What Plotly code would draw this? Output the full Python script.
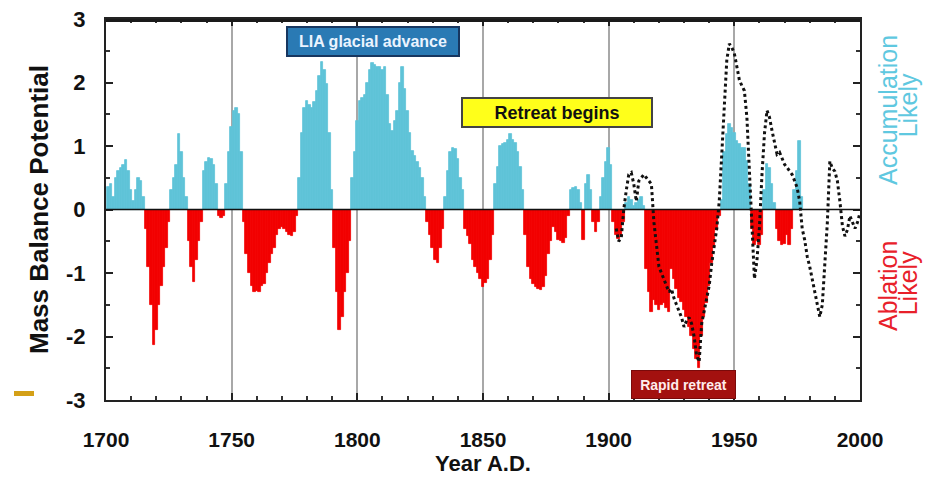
import plotly.graph_objects as go

# ---------------- data ----------------
years = list(range(1701, 1978))
mass_balance = [
    0.35, 0.40, 0.20, 0.50, 0.60, 0.65, 0.70, 0.78, 0.60, 0.30,   # 1701-1710
    0.13, 0.30, 0.50, 0.45, 0.20, -0.30, -0.90, -1.50, -2.14, -1.90,  # 1711-1720
    -1.50, -1.20, -0.90, -0.60, -0.20, 0.30, 0.50, 0.70, 1.19, 0.90,  # 1721-1730
    0.50, 0.20, -0.50, -0.90, -1.14, -0.80, -0.50, -0.20, 0.60, 0.75,  # 1731-1740
    0.81, 0.80, 0.70, 0.40, -0.10, -0.14, -0.10, 0.40, 0.90, 1.30,   # 1741-1750
    1.55, 1.60, 1.50, 0.90, -0.20, -0.70, -1.00, -1.20, -1.30, -1.28,  # 1751-1760
    -1.30, -1.20, -1.17, -1.00, -0.85, -0.70, -0.60, -0.40, -0.30, -0.27,  # 1761-1770
    -0.30, -0.35, -0.40, -0.42, -0.35, -0.10, 0.50, 1.20, 1.60, 1.71,  # 1771-1780
    1.65, 1.60, 1.70, 1.87, 2.10, 2.32, 2.20, 1.98, 1.20, 0.30,   # 1781-1790
    -0.60, -1.30, -1.90, -1.70, -1.30, -1.00, -0.50, 0.50, 0.90, 1.40,  # 1791-1800
    1.71, 1.75, 1.81, 2.00, 2.20, 2.30, 2.28, 2.25, 2.25, 2.20,   # 1801-1810
    2.25, 1.80, 1.35, 1.24, 1.40, 1.55, 2.00, 2.25, 1.90, 1.55,   # 1811-1820
    1.20, 0.92, 0.85, 0.75, 0.66, 0.50, 0.20, -0.20, -0.40, -0.60,  # 1821-1830
    -0.80, -0.85, -0.60, -0.30, 0.20, 0.60, 0.90, 0.97, 0.95, 0.80,  # 1831-1840
    0.50, 0.30, -0.30, -0.42, -0.55, -0.80, -0.90, -1.00, -1.10, -1.22,  # 1841-1850
    -1.15, -1.10, -0.80, -0.40, 0.40, 0.67, 1.00, 1.03, 1.05, 1.10,  # 1851-1860
    1.19, 1.10, 1.05, 0.90, 0.67, 0.30, -0.40, -0.90, -1.10, -1.18,  # 1861-1870
    -1.22, -1.25, -1.26, -1.22, -1.05, -0.70, -0.50, -0.27, -0.35, -0.48,  # 1871-1880
    -0.50, -0.53, -0.45, -0.10, 0.30, 0.34, 0.35, 0.30, 0.10, -0.48,  # 1881-1890
    0.40, 0.55, 0.30, -0.20, -0.35, -0.20, 0.20, 0.50, 0.75, 0.97,  # 1891-1900
    0.70, -0.20, -0.40, -0.46, -0.40, -0.20, 0.10, 0.20, 0.15, 0.05,  # 1901-1910
    0.10, 0.15, 0.20, 0.05, -0.93, -1.30, -1.62, -1.43, -1.50, -1.59,  # 1911-1920
    -1.50, -1.48, -1.55, -1.62, -0.93, -1.10, -1.25, -1.40, -1.45, -1.59,  # 1921-1930
    -1.70, -1.85, -1.99, -2.20, -2.35, -2.49, -1.99, -1.70, -1.48, -1.20,  # 1931-1940
    -0.85, -0.60, -0.32, -0.10, 0.15, 0.90, 1.19, 1.35, 1.29, 1.20,  # 1941-1950
    1.08, 1.03, 0.97, 0.97, 0.76, 0.40, -0.30, -0.56, -0.50, -0.56,  # 1951-1960
    -0.40, 0.30, 0.71, 0.65, 0.40, 0.10, -0.30, -0.50, -0.56, -0.55,  # 1961-1970
    -0.40, -0.56, -0.30, 0.30, 0.60, 1.08, 0.20,                      # 1971-1977
]

recent_years = list(range(1903, 2001))
recent_series = [
    -0.30, -0.50, -0.45, 0.00, 0.30, 0.55, 0.58, 0.40,               # 1903-1910
    0.13, 0.45, 0.50, 0.55, 0.50, 0.45, 0.40, -0.20, -0.60, -0.90,   # 1911-1920
    -1.00, -1.10, -1.20, -1.30, -1.25, -1.40, -1.50, -1.60, -1.70, -1.85,  # 1921-1930
    -1.75, -1.70, -1.80, -2.00, -2.30, -2.40, -1.80, -1.60, -1.40, -1.20,  # 1931-1940
    -0.85, -0.60, -0.30, 0.13, 0.92, 1.71, 2.35, 2.61, 2.55, 2.46,   # 1941-1950
    2.25, 2.04, 1.95, 1.87, 1.45, 0.66, -0.14, -1.09, -0.80, -0.27,  # 1951-1960
    0.55, 1.20, 1.56, 1.45, 1.24, 1.03, 0.87, 0.90, 0.80, 0.71,      # 1961-1970
    0.66, 0.60, 0.55, 0.45, 0.34, 0.13, -0.30, -0.48, -0.74, -0.90,  # 1971-1980
    -1.10, -1.30, -1.53, -1.69, -1.50, -0.90, -0.21, 0.76, 0.65, 0.60,  # 1981-1990
    0.45, 0.13, -0.26, -0.42, -0.32, -0.10, -0.20, -0.30, -0.20, -0.05,  # 1991-2000
]

x_ticks = [1700, 1750, 1800, 1850, 1900, 1950, 2000]
y_ticks = [-3, -2, -1, 0, 1, 2, 3]

# ---------------- style ----------------
BLUE = "#5fc3d8"
RED = "#f20000"
FONT = "Liberation Sans, Arial, sans-serif"

bar_colors = [BLUE if v >= 0 else RED for v in mass_balance]

fig = go.Figure()
fig.add_trace(go.Bar(
    x=years, y=mass_balance, width=1.0,
    marker=dict(color=bar_colors, line=dict(width=0.8, color=bar_colors)),
    showlegend=False,
))
fig.add_trace(go.Scatter(
    x=recent_years, y=recent_series, mode="lines",
    line=dict(color="#111111", width=3, dash="dot"),
    showlegend=False,
))

# zero line on top
fig.add_shape(type="line", xref="x domain", yref="y", x0=0, x1=1, y0=0, y1=0,
              line=dict(color="#111111", width=1.5), layer="above")
# top edge of the frame, drawn just inside the plot area
fig.add_shape(type="line", xref="paper", yref="paper", x0=0, x1=1, y0=0.996, y1=0.996,
              line=dict(color="#1a1a1a", width=3), layer="above")

# little orange dash at lower left
fig.add_shape(type="rect", xref="paper", yref="paper",
              x0=-0.122, x1=-0.0955, y0=0.0105, y1=0.0236,
              fillcolor="#d4a017", line=dict(width=0))

fig.add_annotation(x=1806.3, y=2.65, xref="x", yref="y", text="<b>LIA glacial advance</b>",
                   showarrow=False, font=dict(family=FONT, size=16, color="#eaf4ff"),
                   bgcolor="#2a7ab4", bordercolor="#17365f", borderwidth=2,
                   width=168, height=25, borderpad=1)
fig.add_annotation(x=1879.3, y=1.52, xref="x", yref="y", text="<b>Retreat begins</b>",
                   showarrow=False, font=dict(family=FONT, size=18, color="#111111"),
                   bgcolor="#ffff1a", bordercolor="#444444", borderwidth=2,
                   width=186, height=25, borderpad=1)
fig.add_annotation(x=1929.8, y=-2.75, xref="x", yref="y", text="<b>Rapid retreat</b>",
                   showarrow=False, font=dict(family=FONT, size=14, color="#ffecec"),
                   bgcolor="#a3110f", bordercolor="#7a0a0a", borderwidth=1,
                   width=101, height=25, borderpad=1)

SIDE = "Liberation Sans, Arial, sans-serif"
fig.add_annotation(x=1.037, y=0.761, xref="paper", yref="paper",
                   text="Accumulation", textangle=-90, showarrow=False,
                   font=dict(family=SIDE, size=25, color="#5fc8e0"),
                   xanchor="center", yanchor="middle")
fig.add_annotation(x=1.064, y=0.774, xref="paper", yref="paper",
                   text="Likely", textangle=-90, showarrow=False,
                   font=dict(family=SIDE, size=25, color="#5fc8e0"),
                   xanchor="center", yanchor="middle")
fig.add_annotation(x=1.037, y=0.299, xref="paper", yref="paper",
                   text="Ablation", textangle=-90, showarrow=False,
                   font=dict(family=SIDE, size=25, color="#e8202a"),
                   xanchor="center", yanchor="middle")
fig.add_annotation(x=1.064, y=0.307, xref="paper", yref="paper",
                   text="Likely", textangle=-90, showarrow=False,
                   font=dict(family=SIDE, size=25, color="#e8202a"),
                   xanchor="center", yanchor="middle")

# the page body adds an 8px offset; size the figure to fit the window
fig.update_layout(
    width=926, height=477,
    margin=dict(l=98, r=74, t=11, b=85, autoexpand=False),
    paper_bgcolor="white", plot_bgcolor="white",
    bargap=0,
    font=dict(family=FONT, color="#111111"),
)
fig.update_xaxes(
    range=[1700, 2000], tickvals=x_ticks, ticktext=[f"<b>{t}</b>" for t in x_ticks],
    showgrid=True, gridcolor="#a8a8a8", gridwidth=2,
    showline=True, linecolor="#222222", linewidth=2, mirror="ticks",
    ticks="inside", ticklen=7, tickwidth=2, tickcolor="#222222",
    minor=dict(dtick=10, ticks="inside", ticklen=4, tickcolor="#333333", showgrid=False),
    tickfont=dict(family=FONT, size=21, color="#111111"),
    ticklabelstandoff=20, ticklabeloverflow="allow",
    title=dict(text="<b>Year A.D.</b>", font=dict(family=FONT, size=22, color="#111111"), standoff=5),
    zeroline=False, automargin=False,
)
fig.update_yaxes(
    range=[-3, 3], tickvals=y_ticks, ticktext=[f"<b>{t}</b>" for t in y_ticks],
    showgrid=False,
    showline=True, linecolor="#222222", linewidth=2, mirror="ticks",
    ticks="inside", ticklen=7, tickwidth=2, tickcolor="#222222",
    minor=dict(dtick=0.5, ticks="inside", ticklen=4, tickcolor="#333333", showgrid=False),
    tickfont=dict(family=FONT, size=22, color="#111111"),
    ticklabelstandoff=14, ticklabeloverflow="allow",
    title=dict(text="<b>Mass Balance Potential</b>", font=dict(family=FONT, size=26, color="#111111"), standoff=10),
    zeroline=False, automargin=False,
)

fig.write_html("out.html")
